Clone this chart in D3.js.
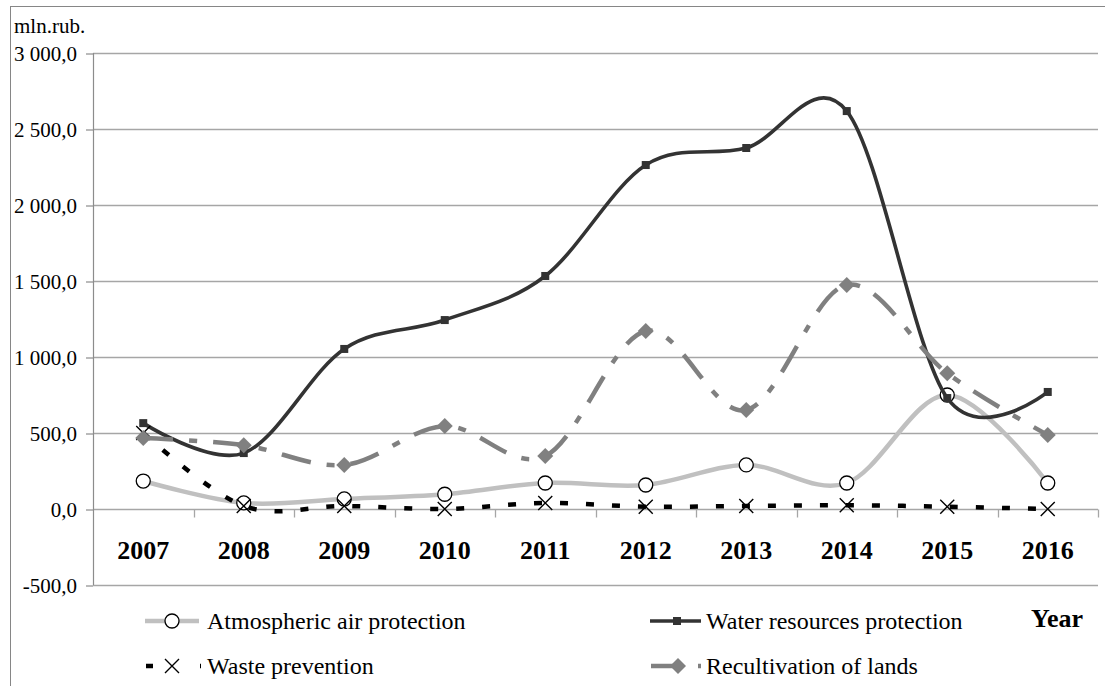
<!DOCTYPE html>
<html>
<head>
<meta charset="utf-8">
<script src="https://cdn.jsdelivr.net/npm/d3@7"></script>
<style>
  html, body { margin: 0; padding: 0; background: #fff; }
  svg { display: block; }
  text { font-family: "Liberation Serif", "Times New Roman", serif; fill: #000; }
</style>
</head>
<body>
<svg id="chart" width="1105" height="686"></svg>
<script>
// ---- data ----
const years = ["2007","2008","2009","2010","2011","2012","2013","2014","2015","2016"];
const atmospheric = [184, 40, 66, 97, 171, 158, 290, 171, 750, 171];
const water = [565, 368, 1053, 1243, 1533, 2263, 2375, 2618, 730, 770];
const waste = [500, 20, 20, 0, 40, 15, 20, 25, 15, 0];
const recultivation = [467, 420, 290, 546, 349, 1171, 651, 1474, 893, 487];
const yTicks = [-500, 0, 500, 1000, 1500, 2000, 2500, 3000];
const seriesNames = ["Atmospheric air protection", "Water resources protection", "Waste prevention", "Recultivation of lands"];
const unitLabel = "mln.rub.";
const xTitle = "Year";

// ---- layout ----
const plot = { left: 93, right: 1098, top: 53, bottom: 585 };
const svg = d3.select("#chart");

const x = d3.scaleBand().domain(years).range([plot.left, plot.right]).padding(0);
const y = d3.scaleLinear().domain([-500, 3000]).range([plot.bottom, plot.top]);
const cx = d => x(d) + x.bandwidth() / 2;

const loc = d3.formatLocale({ decimal: ",", thousands: "\u00a0", grouping: [3], currency: ["", ""], minus: "-" });
const fmt = loc.format(",.1f");

// outer frame
svg.append("rect").attr("x", 10.5).attr("y", 6.5).attr("width", 1200).attr("height", 800)
  .attr("fill", "none").attr("stroke", "#868686").attr("stroke-width", 1);

// unit label
svg.append("text").attr("x", 14).attr("y", 33).attr("font-size", 21).text(unitLabel);

// gridlines + y axis
svg.append("g").selectAll("line").data(yTicks).join("line")
  .attr("x1", plot.left).attr("x2", plot.right)
  .attr("y1", d => Math.round(y(d)) + 0.5).attr("y2", d => Math.round(y(d)) + 0.5)
  .attr("stroke", "#a6a6a6").attr("stroke-width", 1.3);
const yAxis = d3.axisLeft(y).tickValues(yTicks).tickSize(7).tickPadding(9).tickFormat(fmt);
const ya = svg.append("g").attr("transform", `translate(${plot.left},0.5)`).call(yAxis);
ya.select(".domain").remove();
ya.selectAll(".tick line").attr("stroke", "#8c8c8c").attr("stroke-width", 1.2);
ya.selectAll(".tick text").attr("font-size", 21).attr("font-family", "'Liberation Serif', 'Times New Roman', serif").attr("fill", "#000");
svg.append("line").attr("x1", plot.left + 0.5).attr("x2", plot.left + 0.5)
  .attr("y1", y(3000)).attr("y2", y(-500)).attr("stroke", "#8c8c8c").attr("stroke-width", 1.2);

// x axis at zero: boundary ticks + labels
const y0 = Math.round(y(0)) + 0.5;
const bounds = years.map(d => x(d)).concat([x(years[years.length - 1]) + x.bandwidth()]);
svg.append("g").selectAll("line").data(bounds.slice(1)).join("line")
  .attr("x1", d => Math.round(d) + 0.5).attr("x2", d => Math.round(d) + 0.5)
  .attr("y1", y0).attr("y2", y0 + 8).attr("stroke", "#a6a6a6").attr("stroke-width", 1.3);
const xa = d3.axisBottom(x).tickSize(0).tickPadding(0);
const gx = svg.append("g").attr("transform", `translate(0,${y0})`).call(xa);
gx.select(".domain").remove();
gx.selectAll(".tick text").attr("font-size", 26).attr("font-weight", "bold")
  .attr("font-family", "'Liberation Serif', 'Times New Roman', serif").attr("fill", "#000")
  .attr("dy", null).attr("y", 49);

// ---- series ----
const curve = d3.curveCardinal.tension(0);
const line = d3.line().x((d, i) => cx(years[i])).y(d => y(d)).curve(curve);

const styles = [
  { data: atmospheric, color: "#c0c0c0", width: 4.5, dash: null, marker: "circle" },
  { data: water, color: "#333333", width: 3.6, dash: null, marker: "square" },
  { data: waste, color: "#000000", width: 4.5, dash: "8,18", marker: "x" },
  { data: recultivation, color: "#808080", width: 4.5, dash: "30,16,8,16", marker: "diamond" }
];

function drawMarker(g, type, px, py) {
  if (type === "circle") {
    g.append("circle").attr("cx", px).attr("cy", py).attr("r", 7)
      .attr("fill", "#fff").attr("stroke", "#000").attr("stroke-width", 1.3);
  } else if (type === "square") {
    g.append("rect").attr("x", px - 4).attr("y", py - 4).attr("width", 8).attr("height", 8).attr("fill", "#333333");
  } else if (type === "x") {
    const s = 7;
    g.append("path").attr("d", `M${px - s},${py - s}L${px + s},${py + s}M${px - s},${py + s}L${px + s},${py - s}`)
      .attr("stroke", "#000").attr("stroke-width", 1.4).attr("fill", "none");
  } else if (type === "diamond") {
    const s = 8;
    g.append("path").attr("d", `M${px},${py - s}L${px + s},${py}L${px},${py + s}L${px - s},${py}Z`).attr("fill", "#808080");
  }
}

styles.forEach(s => {
  const g = svg.append("g");
  g.append("path").datum(s.data).attr("d", line).attr("fill", "none")
    .attr("stroke", s.color).attr("stroke-width", s.width)
    .attr("stroke-dasharray", s.dash).attr("stroke-linejoin", "round");
  s.data.forEach((v, i) => drawMarker(g, s.marker, cx(years[i]), y(v)));
});

// ---- legend ----
const legendItems = [
  { name: seriesNames[0], st: styles[0], x0: 145, x1: 199, mx: 172, tx: 207, ry: 621, dash: null },
  { name: seriesNames[1], st: styles[1], x0: 650, x1: 701, mx: 677, tx: 706, ry: 621, dash: null },
  { name: seriesNames[2], st: styles[2], x0: 146, x1: 201, mx: 172, tx: 207, ry: 666, dash: "7,47" },
  { name: seriesNames[3], st: styles[3], x0: 651, x1: 702, mx: 678, tx: 706, ry: 666, dash: "22,25,3,10" }
];
const lg = svg.append("g");
legendItems.forEach(it => {
  lg.append("line").attr("x1", it.x0).attr("x2", it.x1).attr("y1", it.ry).attr("y2", it.ry)
    .attr("stroke", it.st.color).attr("stroke-width", it.st.width).attr("stroke-dasharray", it.dash);
  drawMarker(lg, it.st.marker, it.mx, it.ry);
  lg.append("text").attr("x", it.tx).attr("y", it.ry + 8).attr("font-size", 24).text(it.name);
});
svg.append("text").attr("x", 1083).attr("y", 627).attr("text-anchor", "end")
  .attr("font-size", 26).attr("font-weight", "bold").text(xTitle);
</script>
</body>
</html>
